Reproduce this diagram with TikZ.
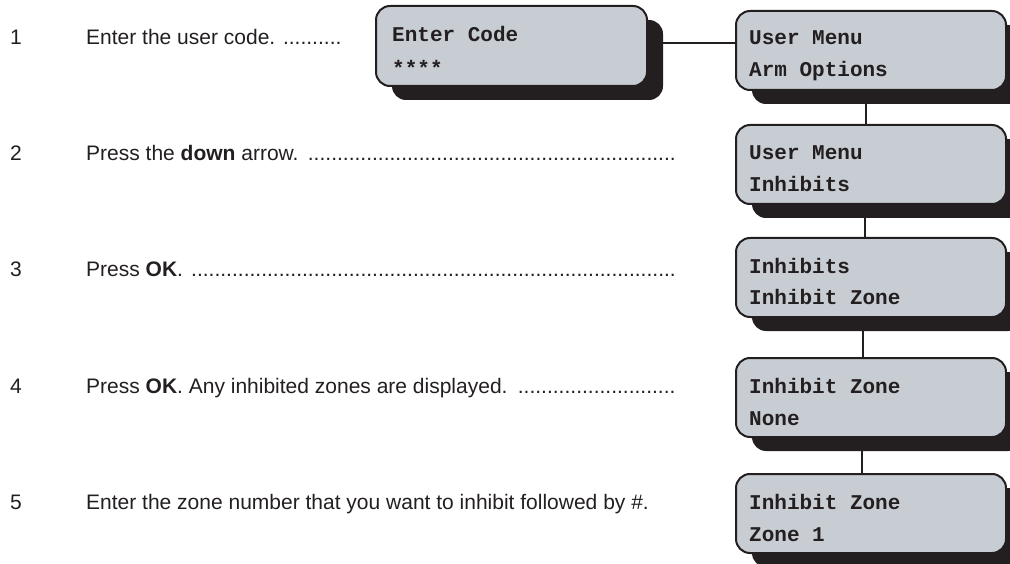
\documentclass[tikz,border=0pt]{standalone}
\usepackage{fontspec}
\setmainfont{Liberation Sans}
\setmonofont{Liberation Mono}
\usetikzlibrary{shadows,backgrounds}
\definecolor{ink}{RGB}{35,31,32}
\definecolor{lcdfill}{RGB}{200,205,211}
\newcommand\dotsto[2]{\hbox to #1{#2\leaders\hbox{.}\hfill}}
\begin{document}
\begin{tikzpicture}[x=1pt,y=-1pt,
  lcd/.style={draw=ink, line width=2pt, fill=lcdfill, rounded corners=14pt,
    minimum width=270pt, minimum height=79pt, inner sep=0pt, anchor=north west,
    drop shadow={shadow xshift=16pt, shadow yshift=-14pt, fill=ink, opacity=1}},
  lcdtxt/.style={anchor=base west, inner sep=0pt, text=ink,
    font=\ttfamily\bfseries\fontsize{21}{25}\selectfont},
  steptxt/.style={anchor=base west, inner sep=0pt, text=ink,
    font=\fontsize{21}{25}\selectfont},
  conn/.style={draw=ink, line width=2pt}]
\useasboundingbox (0,0) rectangle (1010,564);

% boxes
\node[lcd, minimum width=271pt, minimum height=80pt] (ec) at (375,5) {};
\node[lcd] (b1) at (735,10) {};
\node[lcd] (b2) at (735,124) {};
\node[lcd] (b3) at (735,237) {};
\node[lcd] (b4) at (735,357) {};
\node[lcd] (b5) at (735,473) {};

% connectors
\begin{pgfonlayer}{background}
\draw[conn] ([yshift=3pt]ec.east) -- ([yshift=3pt]ec.east -| b1.west);
\draw[conn] ([xshift=-5pt]b1.south) -- ([xshift=-5pt]b2.north);
\draw[conn] ([xshift=-6pt]b2.south) -- ([xshift=-6pt]b3.north);
\draw[conn] ([xshift=-8pt]b3.south) -- ([xshift=-8pt]b4.north);
\draw[conn] ([xshift=-9pt]b4.south) -- ([xshift=-9pt]b5.north);
\end{pgfonlayer}

% box texts
\node[lcdtxt] (eca) at ([xshift=17pt,yshift=-37pt]ec.north west) {Enter Code};
\node[lcdtxt] (ecb) at ([xshift=17pt,yshift=-71pt]ec.north west) {****};
\node[lcdtxt] (b1a) at ([xshift=14pt,yshift=-35pt]b1.north west) {User Menu};
\node[lcdtxt] (b1b) at ([xshift=14pt,yshift=-67pt]b1.north west) {Arm Options};
\node[lcdtxt] (b2a) at ([xshift=14pt,yshift=-36pt]b2.north west) {User Menu};
\node[lcdtxt] (b2b) at ([xshift=14pt,yshift=-68pt]b2.north west) {Inhibits};
\node[lcdtxt] (b3a) at ([xshift=14pt,yshift=-36pt]b3.north west) {Inhibits};
\node[lcdtxt] (b3b) at ([xshift=14pt,yshift=-68pt]b3.north west) {Inhibit Zone};
\node[lcdtxt] (b4a) at ([xshift=14pt,yshift=-36pt]b4.north west) {Inhibit Zone};
\node[lcdtxt] (b4b) at ([xshift=14pt,yshift=-68pt]b4.north west) {None};
\node[lcdtxt] (b5a) at ([xshift=14pt,yshift=-36pt]b5.north west) {Inhibit Zone};
\node[lcdtxt] (b5b) at ([xshift=14pt,yshift=-68pt]b5.north west) {Zone 1};

% step numbers
\node[steptxt] (n1) at (10,45) {1};
\node[steptxt] (n2) at (10,161) {2};
\node[steptxt] (n3) at (10,277) {3};
\node[steptxt] (n4) at (10,393) {4};
\node[steptxt] (n5) at (10,509) {5};

% step texts
\node[steptxt] (s1) at (86,45) {Enter the user code. ..........};
\node[steptxt] (s2) at (86,161) {\dotsto{594pt}{Press the \textbf{down} arrow. }};
\node[steptxt] (s3) at (86,277) {\dotsto{594pt}{Press \textbf{OK}. }};
\node[steptxt] (s4) at (86,393) {\dotsto{594pt}{Press \textbf{OK}. Any inhibited zones are displayed. }};
\node[steptxt] (s5) at (86,509) {Enter the zone number that you want to inhibit followed by \#.};
\end{tikzpicture}
\end{document}
